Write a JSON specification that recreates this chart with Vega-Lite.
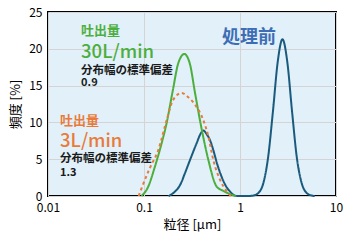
{
  "$schema": "https://vega.github.io/schema/vega-lite/v6.json",
  "width": 288,
  "height": 184,
  "autosize": "none",
  "padding": {"left": 48, "top": 12, "right": 14, "bottom": 46},
  "background": "white",
  "config": {
    "font": "Noto Sans CJK JP",
    "view": {"fill": "#e1f0f9", "stroke": "black", "strokeWidth": 2},
    "axis": {"labelFont": "Noto Sans CJK JP", "titleFont": "Noto Sans CJK JP", "labelColor": "black", "titleColor": "black", "labelFontSize": 12, "titleFontSize": 13, "titleFontWeight": "normal", "gridColor": "#d4d4d4", "gridWidth": 1, "ticks": false, "domain": false, "labelOverlap": false}
  },
  "datasets": {
    "curves": [
      {"s": "teal", "x": 0.18, "y": 0}, {"s": "teal", "x": 0.21, "y": 0.6}, {"s": "teal", "x": 0.24, "y": 1.6}, {"s": "teal", "x": 0.267, "y": 3.1}, {"s": "teal", "x": 0.31, "y": 5.3}, {"s": "teal", "x": 0.354, "y": 7.2}, {"s": "teal", "x": 0.39, "y": 8.5}, {"s": "teal", "x": 0.415, "y": 8.9}, {"s": "teal", "x": 0.45, "y": 8.4}, {"s": "teal", "x": 0.49, "y": 7.5}, {"s": "teal", "x": 0.527, "y": 6.25}, {"s": "teal", "x": 0.58, "y": 4.3}, {"s": "teal", "x": 0.644, "y": 2.6}, {"s": "teal", "x": 0.71, "y": 1.4}, {"s": "teal", "x": 0.787, "y": 0.6}, {"s": "teal", "x": 0.87, "y": 0.1}, {"s": "teal", "x": 0.95, "y": 0}, {"s": "teal", "x": 1.2, "y": 0}, {"s": "teal", "x": 1.39, "y": 0.08}, {"s": "teal", "x": 1.56, "y": 0.43}, {"s": "teal", "x": 1.75, "y": 1.75}, {"s": "teal", "x": 1.96, "y": 5.2}, {"s": "teal", "x": 2.2, "y": 11.4}, {"s": "teal", "x": 2.47, "y": 18.2}, {"s": "teal", "x": 2.77, "y": 21.3}, {"s": "teal", "x": 3.11, "y": 18.2}, {"s": "teal", "x": 3.49, "y": 11.4}, {"s": "teal", "x": 3.91, "y": 5.2}, {"s": "teal", "x": 4.39, "y": 1.75}, {"s": "teal", "x": 4.93, "y": 0.43}, {"s": "teal", "x": 5.53, "y": 0.08}, {"s": "teal", "x": 6.0, "y": 0},
      {"s": "green", "x": 0.094, "y": 0}, {"s": "green", "x": 0.11, "y": 1.2}, {"s": "green", "x": 0.13, "y": 4.0}, {"s": "green", "x": 0.15, "y": 6.8}, {"s": "green", "x": 0.172, "y": 9.9}, {"s": "green", "x": 0.2, "y": 14.4}, {"s": "green", "x": 0.227, "y": 18.0}, {"s": "green", "x": 0.263, "y": 19.3}, {"s": "green", "x": 0.3, "y": 18.0}, {"s": "green", "x": 0.34, "y": 14.0}, {"s": "green", "x": 0.4, "y": 9.0}, {"s": "green", "x": 0.468, "y": 4.9}, {"s": "green", "x": 0.57, "y": 1.3}, {"s": "green", "x": 0.67, "y": 0.7}, {"s": "green", "x": 0.85, "y": 0.1}, {"s": "green", "x": 0.9, "y": 0},
      {"s": "orange", "x": 0.088, "y": 0}, {"s": "orange", "x": 0.094, "y": 1.0}, {"s": "orange", "x": 0.115, "y": 3.8}, {"s": "orange", "x": 0.141, "y": 6.25}, {"s": "orange", "x": 0.172, "y": 10.3}, {"s": "orange", "x": 0.2, "y": 13.0}, {"s": "orange", "x": 0.247, "y": 14.0}, {"s": "orange", "x": 0.29, "y": 13.4}, {"s": "orange", "x": 0.34, "y": 12.4}, {"s": "orange", "x": 0.415, "y": 10.3}, {"s": "orange", "x": 0.468, "y": 8.1}, {"s": "orange", "x": 0.527, "y": 4.9}, {"s": "orange", "x": 0.62, "y": 2.2}, {"s": "orange", "x": 0.73, "y": 0.6}, {"s": "orange", "x": 0.8, "y": 0}
    ]
  },
  "encoding": {
    "x": {"field": "x", "type": "quantitative", "scale": {"type": "log", "domain": [0.01, 10]}, "axis": {"values": [0.01, 0.1, 1, 10], "format": "~g", "title": "粒径 [μm]", "labelPadding": 6, "titlePadding": 5, "labelFlush": false}},
    "y": {"field": "y", "type": "quantitative", "scale": {"domain": [0, 25]}, "axis": {"values": [0, 5, 10, 15, 20, 25], "title": "頻度 [%]", "labelPadding": 6, "titlePadding": 6}}
  },
  "layer": [
    {
      "data": {"name": "curves"},
      "mark": {"type": "line", "strokeWidth": 2, "interpolate": "monotone"},
      "encoding": {
        "color": {"field": "s", "type": "nominal", "scale": {"domain": ["teal", "green", "orange"], "range": ["#1a5b7d", "#4cae3c", "#ea7a3a"]}, "legend": null},
        "strokeDash": {"field": "s", "type": "nominal", "scale": {"domain": ["teal", "green", "orange"], "range": [[1, 0], [1, 0], [3, 3]]}, "legend": null},
        "order": {"field": "x", "type": "quantitative"}
      }
    },
    {
      "data": {"values": [{"t": "吐出量", "x": 0.0221, "y": 22.4}]},
      "mark": {"type": "text", "align": "left", "baseline": "middle", "fontSize": 13, "fontWeight": "bold", "color": "#4cae3c"},
      "encoding": {"text": {"field": "t"}}
    },
    {
      "data": {"values": [{"t": "30L/min", "x": 0.0221, "y": 19.6}]},
      "mark": {"type": "text", "align": "left", "baseline": "middle", "fontSize": 18.5, "fontWeight": 500, "color": "#4cae3c"},
      "encoding": {"text": {"field": "t"}}
    },
    {
      "data": {"values": [{"t": "吐出量", "x": 0.01334, "y": 10.2}]},
      "mark": {"type": "text", "align": "left", "baseline": "middle", "fontSize": 13, "fontWeight": "bold", "color": "#ea7a3a"},
      "encoding": {"text": {"field": "t"}}
    },
    {
      "data": {"values": [{"t": "3L/min", "x": 0.01334, "y": 7.5}]},
      "mark": {"type": "text", "align": "left", "baseline": "middle", "fontSize": 18.5, "fontWeight": 500, "color": "#ea7a3a"},
      "encoding": {"text": {"field": "t"}}
    },
    {
      "data": {"values": [{"t": "分布幅の標準偏差", "x": 0.0221, "y": 17.0}, {"t": "分布幅の標準偏差", "x": 0.01334, "y": 5.05}]},
      "mark": {"type": "text", "align": "left", "baseline": "middle", "fontSize": 11.5, "fontWeight": "bold", "color": "#1a1a1a"},
      "encoding": {"text": {"field": "t"}}
    },
    {
      "data": {"values": [{"t": "0.9", "x": 0.0221, "y": 15.4}, {"t": "1.3", "x": 0.01334, "y": 3.15}]},
      "mark": {"type": "text", "align": "left", "baseline": "middle", "fontSize": 11, "fontWeight": "bold", "color": "#1a1a1a"},
      "encoding": {"text": {"field": "t"}}
    },
    {
      "data": {"values": [{"t": "処理前", "x": 0.65, "y": 21.4}]},
      "mark": {"type": "text", "align": "left", "baseline": "middle", "fontSize": 18, "fontWeight": "bold", "color": "#3d6db5"},
      "encoding": {"text": {"field": "t"}}
    }
  ]
}
